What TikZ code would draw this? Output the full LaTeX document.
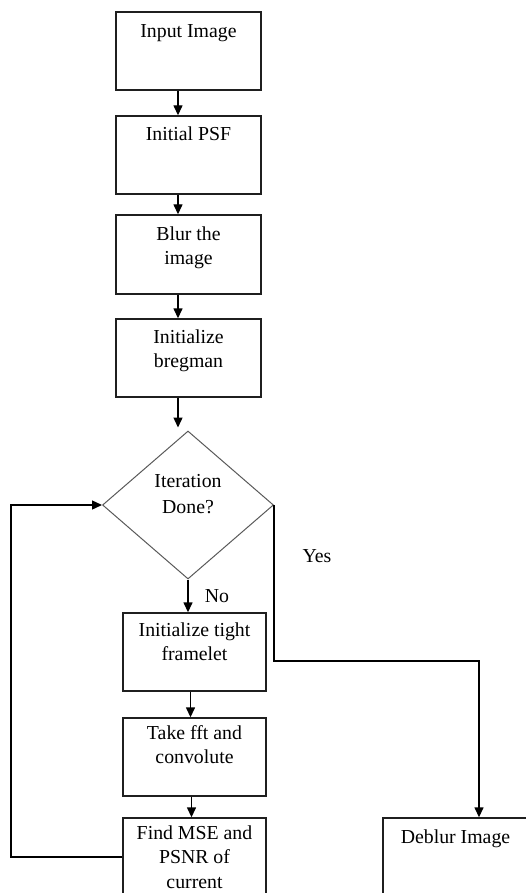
\documentclass[tikz,border=0pt]{standalone}
\usepackage{fontspec}
\setmainfont{Liberation Serif}
\usetikzlibrary{arrows.meta,shapes.geometric,calc}

% box caption: #1 = box height, #2 = gap above the first line, #3 = text
\newcommand\boxcaption[3]{\parbox[c][#1][t]{140pt}{\centering
  \fontsize{19.8}{24.5}\selectfont\vspace*{#2}\strut#3}}

\tikzset{
  stepbox/.style={draw=black!88, line width=1.4pt, inner sep=0pt,
    minimum width=145pt, minimum height=78pt},
  decision/.style={diamond, draw=black!65, line width=1pt, inner sep=0pt,
    minimum width=171pt, minimum height=148pt},
  flow/.style={line width=1.4pt, -{Triangle[length=10pt,width=9pt]}},
  caption/.style={font=\fontsize{19.8}{25.5}\selectfont, inner sep=0pt, align=center}
}

\begin{document}
\begin{tikzpicture}[x=1pt,y=-1pt]
\useasboundingbox (0,0) rectangle (525,893);

% main column
\node[stepbox] (b1) at (188.5,51)    {\boxcaption{78pt}{8pt}{Input Image}};
\node[stepbox] (b2) at (188.5,155)   {\boxcaption{78pt}{7pt}{Initial PSF}};
\node[stepbox, minimum height=79pt] (b3) at (188.5,254.5) {\boxcaption{79pt}{8pt}{Blur the\\image}};
\node[stepbox] (b4) at (188.5,358)   {\boxcaption{78pt}{7pt}{Initialize\\bregman}};

\node[decision] (d) at (188,505) {};
\node[caption] (dq) at (188,494) {Iteration\\Done?};

\node[stepbox, minimum width=143pt] (b5) at (194.5,652) {\boxcaption{78pt}{6pt}{Initialize tight\\framelet}};
\node[stepbox, minimum width=143pt] (b6) at (194.5,757) {\boxcaption{78pt}{4pt}{Take fft and\\convolute}};
\node[stepbox, minimum width=143pt] (b7) at (194.5,857) {\boxcaption{78pt}{4pt}{Find MSE and\\PSNR of\\current}};

% exit branch
\node[stepbox] (db) at (455.5,857) {\boxcaption{78pt}{8pt}{Deblur Image}};

\node[caption] (yes) at (317,556) {Yes};
\node[caption] (no)  at (217,596) {No};

% connectors
\draw[flow] ($(b1.south)+(-10.5,0)$) -- ($(b2.north)+(-10.5,0)$);
\draw[flow] ($(b2.south)+(-10.5,0)$) -- ($(b3.north)+(-10.5,0)$);
\draw[flow] ($(b3.south)+(-10.5,0)$) -- ($(b4.north)+(-10.5,0)$);
\draw[flow] ($(b4.south)+(-10.5,0)$) -- ($(d.north)+(-10,-3)$);

\draw[flow] (d.south) -- (d.south |- b5.north);
\draw[flow] ($(b5.south)+(-4,0)$) -- ($(b6.north)+(-4,0)$);
\draw[flow] ($(b6.south)+(-3,0)$) -- ($(b7.north)+(-3,0)$);

% loop back to the decision
\coordinate (loop) at (11,505);
\draw[flow] (b7.west) -| (loop) -- (d.west);

% "Yes" branch
\coordinate (turn) at (479,661);
\draw[flow] (d.east) |- (turn) -- (turn |- db.north);
\end{tikzpicture}
\end{document}
